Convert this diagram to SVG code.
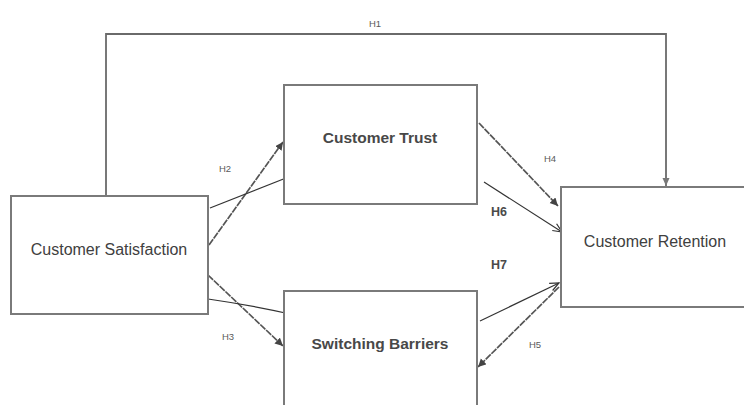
<svg xmlns="http://www.w3.org/2000/svg" width="744" height="405" viewBox="0 0 744 405">
  <style>
    .box { fill: #ffffff; stroke: #7a7a7a; stroke-width: 2; }
    .name { font-family: "Liberation Sans", Arial, sans-serif; font-size: 16px; fill: #404040; text-anchor: middle; }
    .bold { font-weight: bold; fill: #484848; font-size: 15.5px; }
    .lbl { font-family: "Liberation Sans", Arial, sans-serif; font-size: 9.5px; fill: #5a5a5a; text-anchor: middle; }
    .lbl2 { font-family: "Liberation Sans", Arial, sans-serif; font-size: 12.5px; fill: #4a4a4a; text-anchor: middle; font-weight: bold; }
    .wire { fill: none; stroke: #333; stroke-width: 1.2; }
    .rough { fill: none; stroke: #555; stroke-width: 1.7; stroke-dasharray: 7 1; }
    .frame { fill: none; stroke: #6a6a6a; stroke-width: 1.8; }
  </style>
  <defs>
    <marker id="open" markerWidth="12" markerHeight="12" refX="10" refY="5" orient="auto" markerUnits="userSpaceOnUse">
      <path d="M1 1 L10 5 L1 9" fill="none" stroke="#333" stroke-width="1.2"/>
    </marker>
    <marker id="solid" markerWidth="10" markerHeight="10" refX="8" refY="4" orient="auto" markerUnits="userSpaceOnUse">
      <path d="M0 0 L8 4 L0 8 Z" fill="#444"/>
    </marker>
    <marker id="down" markerWidth="10" markerHeight="10" refX="8" refY="4" orient="auto" markerUnits="userSpaceOnUse">
      <path d="M0 0.5 L8 4 L0 7.5 Z" fill="#777"/>
    </marker>
  </defs>

  <rect width="744" height="405" fill="#ffffff"/>

  <g id="connectors">
    <!-- H1: satisfaction to retention, routed over the top -->
    <path class="frame" d="M106 196 V34 H666 V186" marker-end="url(#down)"/>
    <!-- H2 -->
    <path class="rough" d="M209 245 L283 142" marker-end="url(#solid)"/>
    <path class="wire" d="M210 208 L286 178"/>
    <!-- H3 -->
    <path class="rough" d="M208 275 L283 346" marker-end="url(#solid)"/>
    <path class="wire" d="M208 299 Q250 305 290 314"/>
    <!-- H4 -->
    <path class="rough" d="M479 123 L558 206" marker-end="url(#solid)"/>
    <!-- H6 -->
    <path class="wire" d="M484 182 L562 232" marker-end="url(#open)"/>
    <!-- H7 -->
    <path class="wire" d="M480 321 L559 283" marker-end="url(#open)"/>
    <!-- H5 -->
    <path class="rough" d="M559 287 L478 367" marker-end="url(#solid)"/>
  </g>

  <g id="labels">
    <text class="lbl" x="375" y="27">H1</text>
    <text class="lbl" x="225" y="172">H2</text>
    <text class="lbl" x="228" y="340">H3</text>
    <text class="lbl" x="550" y="162">H4</text>
    <text class="lbl" x="535" y="348">H5</text>
    <text class="lbl2" x="499" y="216">H6</text>
    <text class="lbl2" x="499" y="269">H7</text>
  </g>

  <g id="satisfaction">
    <rect class="box" x="11" y="196" width="197" height="118"/>
    <text class="name" x="109" y="255">Customer Satisfaction</text>
  </g>
  <g id="trust">
    <rect class="box" x="284" y="85" width="193" height="119"/>
    <text class="name bold" x="380" y="143">Customer Trust</text>
  </g>
  <g id="barriers">
    <rect class="box" x="284" y="291" width="193" height="130"/>
    <text class="name bold" x="380" y="349">Switching Barriers</text>
  </g>
  <g id="retention">
    <rect class="box" x="561" y="187" width="200" height="120"/>
    <text class="name" x="655" y="247">Customer Retention</text>
  </g>
</svg>
